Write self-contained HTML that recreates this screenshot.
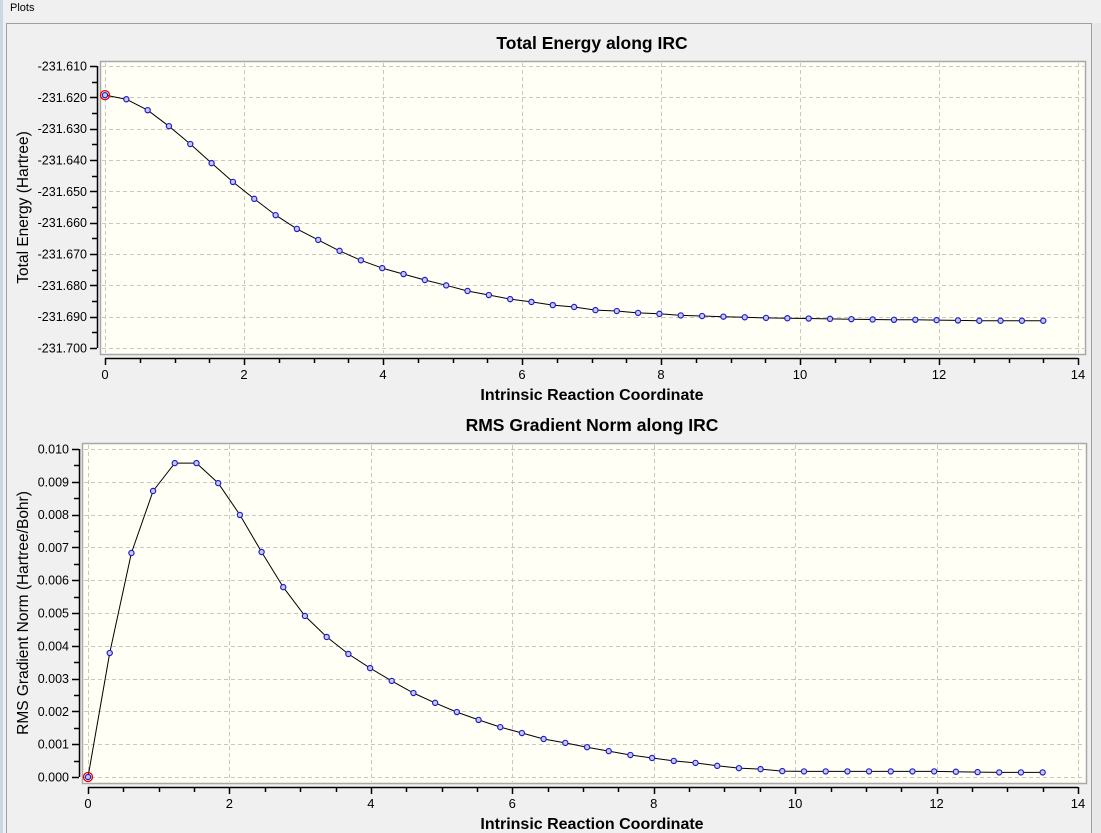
<!DOCTYPE html>
<html><head><meta charset="utf-8"><style>
html,body{margin:0;padding:0;background:#f0f0f0;width:1101px;height:833px;overflow:hidden;font-family:"Liberation Sans",Arial,sans-serif}
svg{position:absolute;left:0;top:0}
</style></head><body>
<svg id="s" width="1101" height="833">
<rect x="0" y="0" width="1101" height="22" fill="#f0f0f0"/>
<text x="10" y="11" font-size="11" fill="#000">Plots</text>
<line x1="6" y1="23.5" x2="1092" y2="23.5" stroke="#a0a0a0"/>
<line x1="6.5" y1="23" x2="6.5" y2="833" stroke="#a0a0a0"/>
<rect x="0" y="0" width="3" height="833" fill="#c9d7e8"/>
<line x1="1091.5" y1="23" x2="1091.5" y2="833" stroke="#a0a0a0"/>
<rect x="1092" y="23" width="9" height="810" fill="#e8e8e8"/>
<g id="g1"></g><g id="g2"></g>
</svg>
<script>
const xVals=[0,0.307,0.614,0.920,1.227,1.534,1.841,2.148,2.455,2.761,3.068,3.375,3.682,3.989,4.295,4.602,4.909,5.216,5.523,5.830,6.136,6.443,6.750,7.057,7.364,7.670,7.977,8.284,8.591,8.898,9.205,9.511,9.818,10.125,10.432,10.739,11.045,11.352,11.659,11.966,12.273,12.580,12.886,13.193,13.500];
const energy=[-231.6193,-231.6206,-231.6241,-231.6292,-231.6349,-231.6410,-231.6470,-231.6524,-231.6576,-231.6620,-231.6655,-231.6690,-231.6720,-231.6745,-231.6764,-231.6783,-231.6800,-231.6818,-231.6831,-231.6844,-231.6853,-231.6863,-231.6869,-231.6879,-231.6882,-231.6888,-231.6891,-231.6896,-231.6898,-231.6900,-231.6902,-231.6904,-231.6905,-231.6906,-231.6907,-231.6908,-231.6909,-231.6910,-231.6910,-231.6911,-231.6912,-231.6913,-231.6913,-231.6913,-231.6913];
const gradient=[0.00000,0.00378,0.00683,0.00872,0.00957,0.00957,0.00896,0.00799,0.00686,0.00579,0.00491,0.00427,0.00375,0.00332,0.00293,0.00256,0.00226,0.00198,0.00174,0.00152,0.00134,0.00116,0.00104,0.00091,0.00079,0.00067,0.00058,0.00049,0.00043,0.00034,0.00027,0.00024,0.00018,0.00017,0.00017,0.00017,0.00017,0.00017,0.00017,0.00017,0.00016,0.00015,0.00014,0.00014,0.00014];
const xTicks=[0,2,4,6,8,10,12,14];
const eTicks=[-231.610,-231.620,-231.630,-231.640,-231.650,-231.660,-231.670,-231.680,-231.690,-231.700];
const gTicks=[0.010,0.009,0.008,0.007,0.006,0.005,0.004,0.003,0.002,0.001,0.000];
const NS='http://www.w3.org/2000/svg';
function mk(p,t,a){const e=document.createElementNS(NS,t);for(const k in a)e.setAttribute(k,a[k]);p.appendChild(e);return e;}
function chart(g,cfg){
  const xs=v=>cfg.x0+(v-0)*(cfg.x14-cfg.x0)/14;
  const ys=v=>cfg.yTop+(cfg.vTop-v)*(cfg.yBot-cfg.yTop)/(cfg.vTop-cfg.vBot);
  const fr=mk(g,'rect',{x:cfg.fl+0.5,y:cfg.ft+0.5,width:cfg.fr-cfg.fl,height:cfg.fb-cfg.ft,fill:'#fffff6',stroke:'#a8a8a8','stroke-width':1.5});
  
  
  mk(g,'text',{x:592,y:cfg.titleY,'font-size':17.5,'font-weight':'bold','text-anchor':'middle'}).textContent=cfg.title;
  
  
  xTicks.forEach(t=>{const x=Math.round(xs(t))+0.5;
    const l=mk(g,'line',{x1:x,x2:x,y1:cfg.ft+2,y2:cfg.fb-1,stroke:'#c8c8c0','stroke-dasharray':'4,3'});
    
    });
  cfg.yTicks.forEach(t=>{const y=Math.round(ys(t))+0.5;
    const l=mk(g,'line',{x1:cfg.fl+2,x2:cfg.fr-1,y1:y,y2:y,stroke:'#c8c8c0','stroke-dasharray':'4,3'});
    
    });
  const ax=mk(g,'line',{x1:xs(0),x2:xs(14),y1:cfg.axY+0.5,y2:cfg.axY+0.5,stroke:'#000','stroke-width':1.5});
  
  
  for(let v=0;v<=14.001;v+=0.5){const x=Math.round(xs(v))+0.5;const major=Math.abs(v-Math.round(v/2)*2)<1e-6;
    mk(g,'line',{x1:x,x2:x,y1:cfg.axY,y2:cfg.axY+(major?7:5),stroke:'#000','stroke-width':1.5});}
  xTicks.forEach(t=>{const tx=mk(g,'text',{x:xs(t),y:cfg.axY+21,'font-size':13,'text-anchor':'middle'});tx.textContent=t;
    
    });
  const xl=mk(g,'text',{x:592,y:cfg.axY+42,'font-size':16,'font-weight':'bold','text-anchor':'middle'});xl.textContent='Intrinsic Reaction Coordinate';
  
  
  const ay=mk(g,'line',{x1:cfg.axX+0.5,x2:cfg.axX+0.5,y1:ys(cfg.vTop),y2:ys(cfg.vBot),stroke:'#000','stroke-width':1.5});
  
  
  for(let i=0;i<cfg.yTicks.length*2-1;i++){const v=cfg.vTop-(cfg.vTop-cfg.vBot)*i/((cfg.yTicks.length-1)*2);const y=Math.round(ys(v))+0.5;
    mk(g,'line',{x1:cfg.axX-(i%2?5:7),x2:cfg.axX,y1:y,y2:y,stroke:'#000','stroke-width':1.5});}
  cfg.yTicks.forEach(t=>{const tx=mk(g,'text',{x:cfg.axX-10,y:ys(t)+4.5,'font-size':12.5,'text-anchor':'end'});tx.textContent=t.toFixed(3);
    
    });
  const cy=(cfg.ft+cfg.fb)/2;
  const yl=mk(g,'text',{x:0,y:0,'font-size':15.5,'text-anchor':'middle',transform:`translate(${cfg.ylX},${cy}) rotate(-90)`});yl.textContent=cfg.ylabel;
  
  
  const pts=xVals.map((x,i)=>xs(x).toFixed(1)+','+ys(cfg.data[i]).toFixed(1)).join(' ');
  const pl=mk(g,'polyline',{points:pts,fill:'none',stroke:'#000','stroke-width':1});
  
  
  xVals.forEach((x,i)=>{const c=mk(g,'circle',{cx:xs(x),cy:ys(cfg.data[i]),r:2.6,fill:'#c8c8ff',stroke:'#2020c0','stroke-width':1.2});
    
    });
  const h=mk(g,'circle',{cx:xs(xVals[0]),cy:ys(cfg.data[0]),r:4.5,fill:'none',stroke:'#e00000','stroke-width':1.3});
  
  
}
chart(document.getElementById('g1'),{name:'energy',title:'Total Energy along IRC',titleY:49,data:energy,yTicks:eTicks,vTop:-231.610,vBot:-231.700,
  x0:105,x14:1078,yTop:66,yBot:348,fl:100,ft:61,fr:1085,fb:354,axY:358,axX:97,ylX:28,ylabel:'Total Energy (Hartree)'});
chart(document.getElementById('g2'),{name:'gradient',title:'RMS Gradient Norm along IRC',titleY:431,data:gradient,yTicks:gTicks,vTop:0.010,vBot:0,
  x0:88,x14:1078,yTop:449,yBot:777,fl:82,ft:443,fr:1086,fb:783,axY:787,axX:79,ylX:28,ylabel:'RMS Gradient Norm (Hartree/Bohr)'});
</script>
</body></html>
